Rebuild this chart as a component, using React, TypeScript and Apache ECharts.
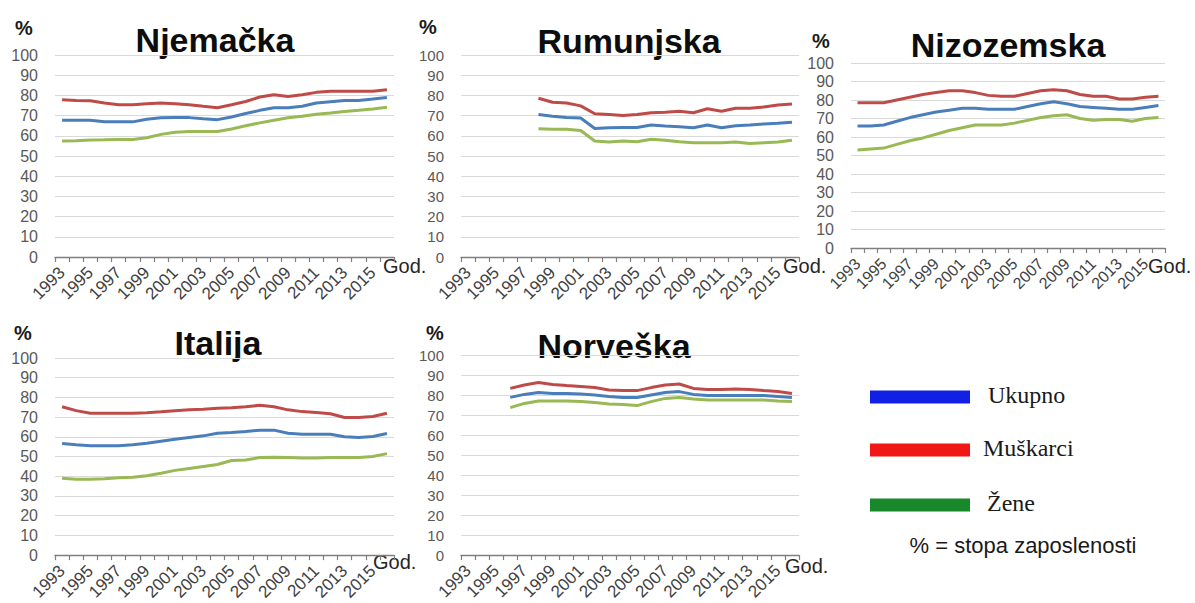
import React, { useEffect, useRef } from "react";
import * as echarts from "echarts";

const YEARS = ["1993","1994","1995","1996","1997","1998","1999","2000","2001","2002","2003","2004","2005","2006","2007","2008","2009","2010","2011","2012","2013","2014","2015","2016"];

// Njemačka 1993-2016
const DE_UKUPNO = [67.7,67.7,67.7,67.0,66.9,66.9,68.2,68.9,69.0,69.0,68.4,68.0,69.3,71.0,72.6,73.9,73.9,74.6,76.2,76.9,77.5,77.5,78.2,79.0];
const DE_MUSKARCI = [77.9,77.5,77.4,76.2,75.4,75.4,75.9,76.2,75.9,75.4,74.6,73.9,75.4,77.0,79.2,80.3,79.5,80.3,81.5,82.0,82.0,82.0,82.0,82.8];
const DE_ZENE = [57.4,57.5,57.9,58.0,58.2,58.2,59.0,60.7,61.8,62.1,62.1,62.1,63.4,65.0,66.4,67.7,68.9,69.7,70.7,71.3,72.0,72.6,73.3,74.1];

// Rumunjska 1998-2016
const RO_START = "1998";
const RO_UKUPNO = [70.5,69.7,69.1,68.8,63.6,64.0,64.1,64.1,65.3,64.8,64.5,64.0,65.3,64.0,65.0,65.3,65.9,66.2,66.7];
const RO_MUSKARCI = [78.6,76.6,76.2,74.8,70.9,70.5,70.0,70.5,71.4,71.7,72.2,71.4,73.4,72.2,73.6,73.6,74.3,75.2,75.7];
const RO_ZENE = [63.5,63.3,63.2,62.6,57.4,56.9,57.4,57.1,58.3,57.8,57.1,56.6,56.6,56.6,56.9,56.2,56.6,56.9,57.8];

// Nizozemska 1993-2016
const NL_UKUPNO = [66,66,66.5,68.5,70.5,72,73.5,74.5,75.5,75.5,75,75,75,76.5,78,79,78,76.5,76,75.5,75,75,76,77];
const NL_MUSKARCI = [78.5,78.5,78.5,80,81.5,83,84,85,85,84,82.5,82,82,83.5,85,85.5,85,83,82,82,80.5,80.5,81.5,82];
const NL_ZENE = [53,53.5,54,56,58,59.5,61.5,63.5,65,66.5,66.5,66.5,67.5,69,70.5,71.5,72,70,69,69.5,69.5,68.5,70,70.5];

// Italija 1993-2016
const IT_UKUPNO = [56.6,56,55.5,55.5,55.5,56,56.8,57.8,58.8,59.7,60.5,61.8,62.2,62.7,63.4,63.4,61.8,61.3,61.3,61.3,60,59.7,60.2,61.7];
const IT_MUSKARCI = [75.3,73.3,72,72,72,72,72.2,72.7,73.3,73.7,74,74.5,74.8,75.3,76,75.3,73.7,72.8,72.3,71.7,69.8,69.8,70.3,72];
const IT_ZENE = [39,38.5,38.5,38.8,39.2,39.5,40.3,41.5,43,44,45,46,48,48.3,49.5,49.7,49.5,49.3,49.3,49.5,49.5,49.5,50,51.5];

// Norveška 1996-2016
const NO_START = "1996";
const NO_UKUPNO = [78.8,80.3,81.3,80.8,80.8,80.5,80,79.2,78.8,78.8,80,81.2,81.7,80.3,79.7,79.7,79.7,79.7,79.7,79.2,78.7];
const NO_MUSKARCI = [83.3,85,86.2,85.3,84.7,84.2,83.7,82.5,82.2,82.2,83.7,85,85.5,83.3,82.8,82.8,83,82.8,82.2,81.7,80.8];
const NO_ZENE = [73.7,75.8,77,77,77,76.7,76.2,75.5,75.3,74.7,76.7,78.3,78.8,78,77.5,77.5,77.5,77.5,77.5,77,76.7];

const TITLES = ["Njemačka", "Rumunjska", "Nizozemska", "Italija", "Norveška"];
const SERIES_NAMES = ["Ukupno", "Muškarci", "Žene"];
const Y_TICKS_MAX = 100;
const X_UNIT = "God.";
const NOTE = "% = stopa zaposlenosti";

const LINE_COLORS = ["#4a7ebb", "#be4b48", "#98b954"];
const LEGEND_COLORS = ["#1020e4", "#f01616", "#18882a"];

function pad(start: string, values: number[]) {
  const offset = YEARS.indexOf(start);
  return YEARS.map((_, i) => (i >= offset && i - offset < values.length ? values[i - offset] : null));
}

const PANELS = [
  { data: [DE_UKUPNO, DE_MUSKARCI, DE_ZENE], start: "1993" },
  { data: [RO_UKUPNO, RO_MUSKARCI, RO_ZENE], start: RO_START },
  { data: [NL_UKUPNO, NL_MUSKARCI, NL_ZENE], start: "1993" },
  { data: [IT_UKUPNO, IT_MUSKARCI, IT_ZENE], start: "1993" },
  { data: [NO_UKUPNO, NO_MUSKARCI, NO_ZENE], start: NO_START },
];

const GRIDS = [
  { left: 55, top: 55, width: 339, height: 202 },
  { left: 461, top: 55, width: 338, height: 202 },
  { left: 851, top: 63, width: 314, height: 185 },
  { left: 55, top: 358, width: 339, height: 199 },
  { left: 461, top: 355, width: 338, height: 200 },
];

const TITLE_POS = [
  [215, 40], [629, 41], [1008, 45], [218, 343], [614, 346],
];
const PCT_POS = [
  [24, 28], [428, 27], [821, 41], [23, 333], [435, 333],
];
const GOD_POS = [
  [383, 266], [783, 266], [1148, 266], [373, 562], [785, 566],
];

const SANS = "'Liberation Sans', Arial, sans-serif";

export default function App() {
  const ref = useRef<HTMLDivElement>(null);
  useEffect(() => {
    if (!ref.current) return;
    const chart = echarts.init(ref.current, null, { renderer: "svg" });

    const xAxis = GRIDS.map((_, i) => ({
      type: "category",
      gridIndex: i,
      data: YEARS,
      boundaryGap: true,
      axisLine: { show: true, lineStyle: { color: "#7f7f7f", width: 1.3 } },
      axisTick: { show: true, interval: 0, length: 5, lineStyle: { color: "#7f7f7f", width: 1.2 } },
      axisLabel: {
        interval: 1,
        rotate: 45,
        fontSize: i === 2 ? 16 : 17,
        color: "#404040",
        margin: 13,
        fontFamily: SANS,
        hideOverlap: false,
      },
      splitLine: { show: false },
    }));

    const yAxis = GRIDS.map((_, i) => ({
      type: "value",
      gridIndex: i,
      min: 0,
      max: Y_TICKS_MAX,
      interval: 10,
      axisLine: { show: false },
      axisTick: { show: false },
      axisLabel: {
        fontSize: i === 1 || i === 4 ? 15 : 16,
        color: "#595959",
        margin: 17,
        fontFamily: SANS,
      },
      splitLine: { lineStyle: { color: "#d9d9d9", width: 1 } },
    }));

    const series: any[] = [];
    PANELS.forEach((p, pi) => {
      p.data.forEach((vals, si) => {
        series.push({
          type: "line",
          name: SERIES_NAMES[si],
          xAxisIndex: pi,
          yAxisIndex: pi,
          data: pad(p.start, vals),
          showSymbol: false,
          symbol: "none",
          connectNulls: false,
          lineStyle: { color: LINE_COLORS[si], width: 3 },
          itemStyle: { color: LINE_COLORS[si] },
          z: si === 1 ? 3 : 2,
        });
      });
    });

    const graphic: any[] = [];
    TITLES.forEach((t, i) => {
      graphic.push({
        type: "text",
        x: TITLE_POS[i][0],
        y: TITLE_POS[i][1],
        style: {
          text: t,
          fontSize: 34,
          fontWeight: "bold",
          fontFamily: SANS,
          fill: "#0d0d0d",
          textAlign: "center",
          textVerticalAlign: "middle",
        },
      });
      graphic.push({
        type: "text",
        x: PCT_POS[i][0],
        y: PCT_POS[i][1],
        style: {
          text: "%",
          fontSize: 20,
          fontWeight: "bold",
          fontFamily: SANS,
          fill: "#1a1a1a",
          textAlign: "center",
          textVerticalAlign: "middle",
        },
      });
      graphic.push({
        type: "text",
        x: GOD_POS[i][0],
        y: GOD_POS[i][1],
        style: {
          text: X_UNIT,
          fontSize: 20,
          fontFamily: SANS,
          fill: "#262626",
          textAlign: "left",
          textVerticalAlign: "middle",
        },
      });
    });

    const LEGEND_Y = [397, 450, 505];
    const LEGEND_TX = [988, 983, 987];
    SERIES_NAMES.forEach((n, i) => {
      graphic.push({
        type: "rect",
        shape: { x: 870, y: LEGEND_Y[i] - 6.5, width: 100, height: 13 },
        style: { fill: LEGEND_COLORS[i] },
      });
      graphic.push({
        type: "text",
        x: LEGEND_TX[i],
        y: LEGEND_Y[i] - 2,
        style: {
          text: n,
          fontSize: 24,
          fontFamily: "'Liberation Serif', 'Times New Roman', serif",
          fill: "#1a1a1a",
          textAlign: "left",
          textVerticalAlign: "middle",
        },
      });
    });
    graphic.push({
      type: "text",
      x: 1023,
      y: 545,
      style: {
        text: NOTE,
        fontSize: 22,
        fontFamily: SANS,
        fill: "#1a1a1a",
        textAlign: "center",
        textVerticalAlign: "middle",
      },
    });

    chart.setOption({
      animation: false,
      backgroundColor: "#ffffff",
      grid: GRIDS,
      xAxis,
      yAxis,
      series,
      graphic,
    });
    return () => chart.dispose();
  }, []);

  return (
    <div
      ref={ref}
      style={{ position: "fixed", left: 0, top: 0, width: 1195, height: 603, background: "#fff" }}
    />
  );
}
